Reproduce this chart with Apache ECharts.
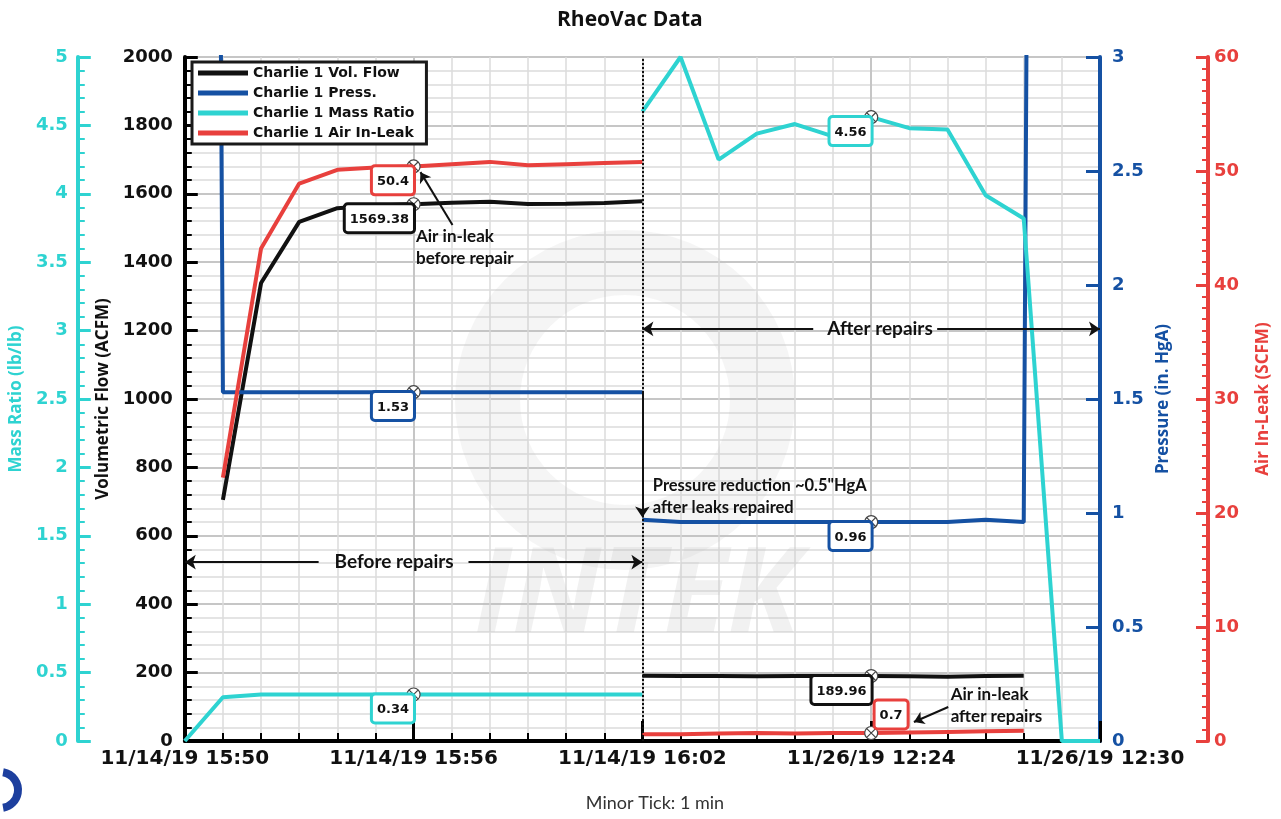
<!DOCTYPE html>
<html>
<head>
<meta charset="utf-8">
<title>RheoVac Data</title>
<script src="https://cdn.jsdelivr.net/npm/echarts@6/dist/echarts.min.js"></script>
<style>
  html, body { margin: 0; padding: 0; background: #fff; }
  #main { width: 1281px; height: 819px; }
</style>
</head>
<body>
<div id="main"></div>
<script>
// x = minute slot: 0..12 -> 11/14/19 15:50..16:02, 13..24 -> 11/26/19 12:19..12:30
var tickLabels = ['11/14/19 15:50', '11/14/19 15:56', '11/14/19 16:02', '11/26/19 12:24', '11/26/19 12:30'];

// before repairs, slots 0..12 (null = no reading, 29.9 = atmospheric, off scale)
var flowBefore  = [null, 705, 1339, 1518, 1558, 1566, 1569.38, 1574, 1577, 1570, 1571, 1573, 1578];
var pressBefore = [29.9, 1.53, 1.53, 1.53, 1.53, 1.53, 1.53, 1.53, 1.53, 1.53, 1.53, 1.53, 1.53];
var ratioBefore = [0, 0.32, 0.34, 0.34, 0.34, 0.34, 0.34, 0.34, 0.34, 0.34, 0.34, 0.34, 0.34];
var leakBefore  = [null, 23.1, 43.2, 48.9, 50.1, 50.3, 50.4, 50.6, 50.8, 50.5, 50.6, 50.7, 50.8];

// after repairs, slots 12..24
var flowAfter  = [191, 190, 190, 189, 190, 190, 189.96, 189, 188, 190, 191, null, null];
var pressAfter = [0.97, 0.96, 0.96, 0.96, 0.96, 0.96, 0.96, 0.96, 0.96, 0.97, 0.96, 29.9, 29.9];
var ratioAfter = [4.6, 5.0, 4.25, 4.44, 4.51, 4.42, 4.56, 4.48, 4.47, 3.99, 3.82, 0, 0];
var leakAfter  = [0.6, 0.6, 0.65, 0.7, 0.65, 0.7, 0.7, 0.75, 0.8, 0.85, 0.9, null, null];

var C_FLOW = '#111111', C_PRESS = '#1551a3', C_RATIO = '#2ed3d1', C_LEAK = '#e8403d';

function joined(before, after) {
  var d = before.map(function (v, i) { return [i, v]; });
  d.push([12, null]); // break the line at the repair
  after.forEach(function (v, i) { d.push([12 + i, v]); });
  return d;
}

var crossCircle = 'path://M1,8A7,7 0 1,1 15,8A7,7 0 1,1 1,8ZM3.5,3.5L12.5,12.5M12.5,3.5L3.5,12.5';

// data tip: crossed circle + boxed value
function tip(x, y, color, upRight) {
  return {
    coord: [x, y], value: y,
    symbol: crossCircle, symbolSize: 13,
    itemStyle: { color: '#fff', borderColor: '#444', borderWidth: 1.2 },
    label: {
      show: true, formatter: String(y),
      position: upRight ? [11.5, 1.5] : [6.5, 8],
      align: upRight ? 'left' : 'right',
      verticalAlign: upRight ? 'bottom' : 'top',
      backgroundColor: '#fff', borderColor: color, borderWidth: 3, borderRadius: 2,
      padding: [8, 4, 5, 4], color: '#111',
      fontFamily: 'DejaVu Sans', fontWeight: 'bold', fontSize: 13
    }
  };
}

// plain text note anchored at a data point
function note(x, y, text, centered, size) {
  return {
    coord: [x, y], symbol: 'circle', symbolSize: 1,
    itemStyle: { color: 'rgba(0,0,0,0)' },
    label: {
      show: true, formatter: text, position: centered ? 'inside' : 'right', distance: 0,
      color: '#111', fontFamily: 'Lato', fontWeight: 'bold', fontSize: size, lineHeight: 22
    }
  };
}

function arrow(x1, y1, x2, y2) {
  return [{ coord: [x1, y1], symbol: 'none' }, { coord: [x2, y2], symbol: 'arrow' }];
}

var chart = echarts.init(document.getElementById('main'));

var axisFont = { fontFamily: 'DejaVu Sans', fontWeight: 'bold', fontSize: 18 };
var nameFont = { fontFamily: 'Open Sans', fontWeight: 'bold', fontSize: 17 };
var plain = function (v) { return String(v); };

var option = {
  animation: false,
  backgroundColor: '#fff',
  title: {
    text: 'RheoVac Data', left: 552, top: 5,
    textStyle: { fontFamily: 'Open Sans', fontWeight: 'bold', fontSize: 21, color: '#111' }
  },
  legend: {
    data: ['Charlie 1 Vol. Flow', 'Charlie 1 Press.', 'Charlie 1 Mass Ratio', 'Charlie 1 Air In-Leak'],
    orient: 'vertical', left: 192, top: 62,
    icon: 'rect', itemWidth: 50, itemHeight: 5, itemGap: 4,
    padding: [3, 12, 3, 6],
    backgroundColor: '#fff', borderColor: '#1a1a1a', borderWidth: 3,
    textStyle: { fontFamily: 'DejaVu Sans', fontWeight: 'bold', fontSize: 14, color: '#111', lineHeight: 16 },
    z: 10
  },
  grid: { left: 184, right: 181, top: 57, bottom: 78 },
  xAxis: {
    type: 'value', min: 0, max: 24, interval: 6,
    axisLine: { lineStyle: { color: '#000', width: 4 } },
    axisTick: { inside: true, length: 20, lineStyle: { color: '#000', width: 3 } },
    minorTick: { show: true, splitNumber: 6, length: 8, lineStyle: { color: '#000', width: 2 } },
    splitLine: { show: true, lineStyle: { color: '#c6c6c6', width: 2 } },
    minorSplitLine: { show: true, lineStyle: { color: '#dcdcdc', width: 1.5 } },
    axisLabel: {
      margin: 8, color: '#111', fontFamily: 'DejaVu Sans', fontWeight: 'bold', fontSize: 20,
      showMinLabel: true, showMaxLabel: true,
      formatter: function (v) { return tickLabels[v / 6] || ''; }
    }
  },
  yAxis: [
    {
      type: 'value', position: 'left', min: 0, max: 2000, interval: 200,
      name: 'Volumetric Flow (ACFM)', nameLocation: 'middle', nameGap: 51,
      nameTextStyle: Object.assign({ color: '#111' }, nameFont),
      axisLine: { show: true, lineStyle: { color: '#000', width: 4 } },
      axisTick: { show: true, inside: true, length: 13, lineStyle: { color: '#000', width: 3 } },
      minorTick: { show: true, splitNumber: 5, length: 7, lineStyle: { color: '#000', width: 2 } },
      splitLine: { show: true, lineStyle: { color: '#c6c6c6', width: 2 } },
      minorSplitLine: { show: true, lineStyle: { color: '#dcdcdc', width: 1.5 } },
      axisLabel: Object.assign({ color: '#111', margin: 12, formatter: plain }, axisFont)
    },
    {
      type: 'value', position: 'left', offset: 107, min: 0, max: 5, interval: 0.5,
      name: 'Mass Ratio (lb/lb)', nameLocation: 'middle', nameGap: 51,
      nameTextStyle: Object.assign({ color: C_RATIO }, nameFont),
      axisLine: { show: true, lineStyle: { color: C_RATIO, width: 4 } },
      axisTick: { show: true, inside: true, length: 13, lineStyle: { color: C_RATIO, width: 3 } },
      minorTick: { show: true, splitNumber: 5, length: 7, lineStyle: { color: C_RATIO, width: 2 } },
      splitLine: { show: false },
      axisLabel: Object.assign({ color: C_RATIO, margin: 10, formatter: plain }, axisFont)
    },
    {
      type: 'value', position: 'right', min: 0, max: 3, interval: 0.5,
      name: 'Pressure (in. HgA)', nameLocation: 'middle', nameGap: 52,
      nameTextStyle: Object.assign({ color: C_PRESS }, nameFont),
      axisLine: { show: true, lineStyle: { color: C_PRESS, width: 4 } },
      axisTick: { show: true, inside: true, length: 14, lineStyle: { color: C_PRESS, width: 3 } },
      splitLine: { show: false },
      axisLabel: Object.assign({ color: C_PRESS, margin: 12, formatter: plain }, axisFont)
    },
    {
      type: 'value', position: 'right', offset: 108, min: 0, max: 60, interval: 10,
      name: 'Air In-Leak (SCFM)', nameLocation: 'middle', nameGap: 47,
      nameTextStyle: Object.assign({ color: C_LEAK }, nameFont),
      axisLine: { show: true, lineStyle: { color: C_LEAK, width: 4 } },
      axisTick: { show: true, inside: true, length: 12, lineStyle: { color: C_LEAK, width: 3 } },
      minorTick: { show: true, splitNumber: 10, length: 6, lineStyle: { color: C_LEAK, width: 2 } },
      splitLine: { show: false },
      axisLabel: Object.assign({ color: C_LEAK, margin: 6, formatter: plain }, axisFont)
    }
  ],
  graphic: [
    { type: 'ring', z: 1, silent: true, shape: { cx: 625, cy: 400, r: 170, r0: 105 },
      style: { fill: 'rgba(190,190,190,0.16)' } },
    { type: 'text', z: 1, silent: true, x: 637, y: 598,
      style: { text: 'INTEK', font: 'italic bold 118px "Open Sans"', fill: 'rgba(190,190,190,0.22)',
               align: 'center', verticalAlign: 'middle' } },
    { type: 'text', x: 655, y: 803,
      style: { text: 'Minor Tick: 1 min', font: '18px Lato', fill: '#333',
               align: 'center', verticalAlign: 'middle' } },
    { type: 'arc', silent: true, shape: { cx: 0, cy: 790, r: 18, startAngle: -1.4, endAngle: 1.4 },
      style: { stroke: '#1d3f9e', lineWidth: 8, fill: null } }
  ],
  series: [
    {
      name: 'Charlie 1 Vol. Flow', type: 'line', yAxisIndex: 0, z: 3,
      data: joined(flowBefore, flowAfter), showSymbol: false,
      lineStyle: { color: C_FLOW, width: 4 }, itemStyle: { color: C_FLOW },
      markPoint: { silent: true, data: [
        tip(6, flowBefore[6], C_FLOW, false),
        tip(18, flowAfter[6], C_FLOW, false),
        note(5.49, 523, 'Before repairs', true, 19),
        note(18.23, 1205, 'After repairs', true, 19)
      ] },
      markLine: {
        silent: true, symbol: ['none', 'none'], symbolSize: 11,
        label: { show: false },
        lineStyle: { color: '#111', width: 2, type: 'solid' },
        data: [
          { xAxis: 12, lineStyle: { type: 'dotted', width: 2, color: '#111' } },
          arrow(3.51, 523, 0, 523),
          arrow(7.44, 523, 12, 523),
          arrow(16.48, 1205, 12, 1205),
          arrow(19.73, 1205, 24, 1205)
        ]
      }
    },
    {
      name: 'Charlie 1 Press.', type: 'line', yAxisIndex: 2, z: 3,
      data: joined(pressBefore, pressAfter), showSymbol: false,
      lineStyle: { color: C_PRESS, width: 4 }, itemStyle: { color: C_PRESS },
      markPoint: { silent: true, data: [
        tip(6, pressBefore[6], C_PRESS, false),
        tip(18, pressAfter[6], C_PRESS, false),
        note(12.26, 1.07, 'Pressure reduction ~0.5"HgA\nafter leaks repaired', false, 16.5)
      ] },
      markLine: {
        silent: true, symbol: ['none', 'none'], symbolSize: 11,
        label: { show: false },
        lineStyle: { color: '#111', width: 2, type: 'solid' },
        data: [ arrow(12, 1.53, 12, 0.98) ]
      }
    },
    {
      name: 'Charlie 1 Mass Ratio', type: 'line', yAxisIndex: 1, z: 4,
      data: joined(ratioBefore, ratioAfter), showSymbol: false,
      lineStyle: { color: C_RATIO, width: 4 }, itemStyle: { color: C_RATIO },
      markPoint: { silent: true, data: [
        tip(6, ratioBefore[6], C_RATIO, false),
        tip(18, ratioAfter[6], C_RATIO, false)
      ] }
    },
    {
      name: 'Charlie 1 Air In-Leak', type: 'line', yAxisIndex: 3, z: 3,
      data: joined(leakBefore, leakAfter), showSymbol: false,
      lineStyle: { color: C_LEAK, width: 4 }, itemStyle: { color: C_LEAK },
      markPoint: { silent: true, data: [
        tip(6, leakBefore[6], C_LEAK, false),
        tip(18, leakAfter[6], C_LEAK, true),
        note(6.05, 43.25, 'Air in-leak\nbefore repair', false, 17),
        note(20.07, 3.07, 'Air in-leak\nafter repairs', false, 17)
      ] },
      markLine: {
        silent: true, symbol: ['none', 'none'], symbolSize: 10,
        label: { show: false },
        lineStyle: { color: '#111', width: 2, type: 'solid' },
        data: [
          arrow(7.02, 45.26, 6.18, 49.9),
          arrow(20.02, 2.98, 19.12, 1.67)
        ]
      }
    }
  ]
};

chart.setOption(option);
</script>
</body>
</html>
